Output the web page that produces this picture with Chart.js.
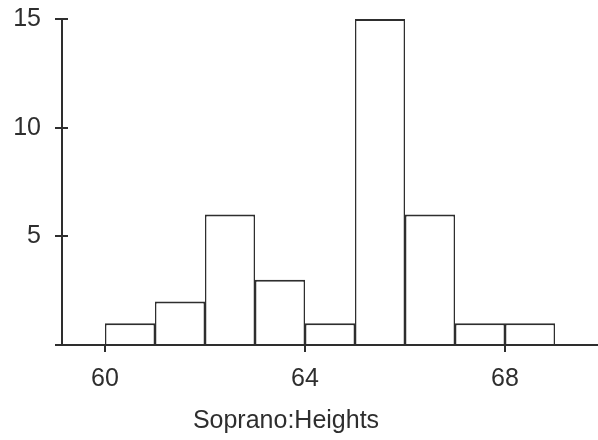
<!DOCTYPE html>
<html>
<head>
<meta charset="utf-8">
<script src="https://cdn.jsdelivr.net/npm/chart.js@4/dist/chart.umd.min.js"></script>
<style>
  html, body { margin: 0; padding: 0; background: #fff; }
  #wrap { width: 598px; height: 440px; }
</style>
</head>
<body>
<div id="wrap"><canvas id="c" width="598" height="440"></canvas></div>
<script>
// Histogram bins (left edges, inches) and counts
const binStarts = [60, 61, 62, 63, 64, 65, 66, 67, 68];
const counts = [1, 2, 6, 3, 1, 15, 6, 1, 1];
const xTickValues = [60, 64, 68];
const yTickValues = [0, 5, 10, 15];
const xAxisLabel = 'Soprano:Heights';

const ink = '#2e2e2e';
const fontFamily = '"Liberation Sans", Arial, sans-serif';

const points = binStarts.map((b, i) => ({ x: b + 0.5, y: counts[i] }));

// inner half of the y ticks (they cross the axis) and the x-axis caption
const extras = {
  id: 'extras',
  afterDraw(chart) {
    const y = chart.scales.y;
    const ctx = chart.ctx;
    ctx.save();
    ctx.strokeStyle = ink;
    ctx.lineWidth = 2;
    yTickValues.forEach(v => {
      if (v === 0) return;
      const py = Math.round(y.getPixelForValue(v));
      ctx.beginPath();
      ctx.moveTo(chart.chartArea.left, py);
      ctx.lineTo(chart.chartArea.left + 6, py);
      ctx.stroke();
    });
    ctx.fillStyle = ink;
    ctx.font = '25px ' + fontFamily;
    ctx.textAlign = 'center';
    ctx.textBaseline = 'middle';
    ctx.fillText(xAxisLabel, chart.width / 2 - 13, 421);
    ctx.restore();
  }
};

new Chart(document.getElementById('c'), {
  type: 'bar',
  data: {
    datasets: [{
      data: points,
      backgroundColor: '#ffffff',
      borderColor: ink,
      borderWidth: { top: 2, left: 1.5, right: 1.5, bottom: 0 },
      borderSkipped: 'start',
      barPercentage: 1,
      categoryPercentage: 1,
      inflateAmount: 0
    }]
  },
  options: {
    responsive: false,
    animation: false,
    layout: { padding: { top: 19, right: 0, left: 0, bottom: 0 } },
    plugins: { legend: { display: false }, tooltip: { enabled: false } },
    scales: {
      x: {
        type: 'linear',
        offset: false,
        min: 59.14,
        max: 69.86,
        afterBuildTicks: s => { s.ticks = xTickValues.map(v => ({ value: v })); },
        afterFit: s => { s.height = 95; s.paddingLeft = 0; s.paddingRight = 0; },
        grid: { offset: false, drawOnChartArea: false, drawTicks: true, tickLength: 7, color: ink, lineWidth: 2 },
        border: { color: ink, width: 2 },
        ticks: {
          color: ink,
          font: { family: fontFamily, size: 25 },
          padding: 12,
          maxRotation: 0,
          autoSkip: false
        }
      },
      y: {
        min: 0,
        max: 15,
        afterBuildTicks: s => { s.ticks = yTickValues.map(v => ({ value: v })); },
        afterFit: s => { s.width = 62; s.paddingTop = 0; s.paddingBottom = 0; },
        grid: { drawOnChartArea: false, drawTicks: true, tickLength: 7, color: ink, lineWidth: 2 },
        border: { color: ink, width: 2 },
        ticks: {
          color: ink,
          font: { family: fontFamily, size: 25 },
          padding: 14,
          callback: v => (v === 0 ? '' : String(v))
        }
      }
    }
  },
  plugins: [extras]
});
</script>
</body>
</html>
